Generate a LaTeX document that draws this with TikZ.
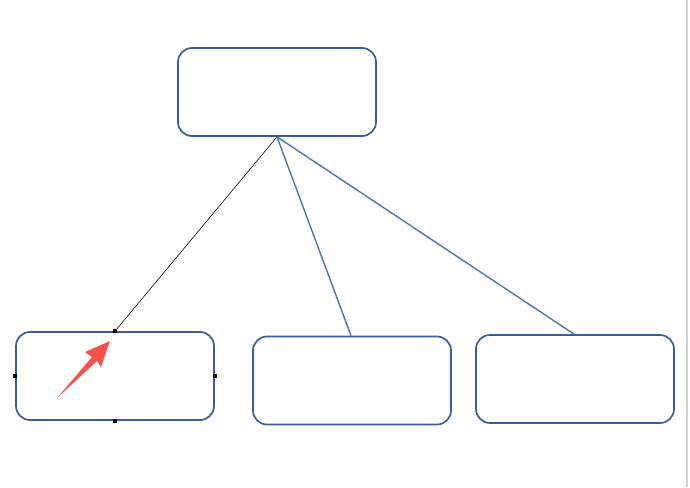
\documentclass[tikz,border=0pt]{standalone}
\begin{document}
\begin{tikzpicture}[x=1pt,y=-1pt,
  box/.style={draw=boxblue,line width=1.7pt,rounded corners=14pt,minimum width=198pt,minimum height=88pt,inner sep=0pt,fill=white},
  link/.style={draw=lineblue,line width=1.4pt},
  handle/.style={fill=black,draw=none,minimum size=4.5pt,inner sep=0pt}]
\definecolor{boxblue}{HTML}{3B5C9E}
\definecolor{lineblue}{HTML}{4A74C2}
\definecolor{arrowred}{HTML}{F5514F}
\definecolor{edgegray}{HTML}{D0D0D0}
\useasboundingbox (0,0) rectangle (690,487);
\fill[white] (0,0) rectangle (690,487);
\draw[edgegray,line width=1.2pt] (687,0) -- (687,487);
\node[box] (top) at (277,92) {};
\node[box] (bl) at (115,376) {};
\node[box] (bm) at (352,380.5) {};
\node[box] (br) at (575,379) {};
\draw[black,line width=0.6pt] (top.south) -- (bl.north);
\draw[link] (top.south) -- ([xshift=-1pt]bm.north);
\draw[link] (top.south) -- ([xshift=-1pt]br.north);
\node[handle] (h1) at (bl.north) {};
\node[handle] (h2) at (bl.west) {};
\node[handle] (h3) at (bl.east) {};
\node[handle] (h4) at (bl.south) {};
\fill[arrowred] (57,398) -- (97,361) -- (101,367) -- (110,341) -- (85,352) -- (92,357) -- cycle;
\end{tikzpicture}
\end{document}
